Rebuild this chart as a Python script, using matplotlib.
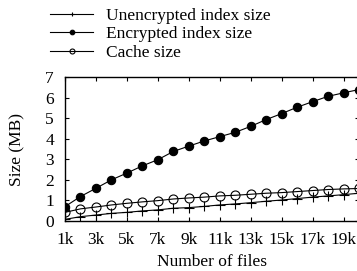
import matplotlib
matplotlib.use("Agg")
import matplotlib.pyplot as plt

files_k = list(range(1, 21))
encrypted = [0.70, 1.19, 1.59, 2.00, 2.33, 2.68, 2.98, 3.38, 3.64, 3.89,
             4.10, 4.31, 4.60, 4.93, 5.22, 5.53, 5.80, 6.06, 6.23, 6.39]
cache = [0.42, 0.59, 0.68, 0.78, 0.86, 0.93, 0.99, 1.07, 1.12, 1.16,
         1.22, 1.25, 1.30, 1.35, 1.38, 1.43, 1.48, 1.53, 1.56, 1.58]
unencrypted = [0.08, 0.21, 0.29, 0.37, 0.42, 0.49, 0.54, 0.62, 0.65, 0.71,
               0.78, 0.83, 0.89, 0.96, 1.02, 1.09, 1.16, 1.22, 1.28, 1.35]
xticks_k = list(range(1, 21, 2))
xtick_labels = [f"{k}k" for k in xticks_k]
yticks = list(range(0, 8))

plt.rcParams['font.family'] = ['Liberation Serif', 'DejaVu Serif']
plt.rcParams['font.size'] = 12.5

fig = plt.figure(figsize=(3.57, 2.71), dpi=100)
ax = fig.add_axes([65/357, 1-221/271, (359-65)/357, (221-77)/271])

lw = 0.8
l1, = ax.plot(files_k, unencrypted, color='black', lw=lw, marker='+',
              markersize=6.5, markeredgewidth=0.8, label='Unencrypted index size')
l2, = ax.plot(files_k, encrypted, color='black', lw=lw, marker='o',
              markersize=6, markerfacecolor='black', markeredgewidth=0.8,
              label='Encrypted index size')
l3, = ax.plot(files_k, cache, color='black', lw=lw, marker='o',
              markersize=6.5, markerfacecolor='none', markeredgewidth=0.8,
              label='Cache size')

ax.set_xlim(1, 20)
ax.set_ylim(0, 7)
ax.set_xticks(xticks_k)
ax.set_xticklabels(xtick_labels)
ax.set_yticks(yticks)
ax.tick_params(direction='in', length=3, width=0.8, top=True, right=True)
ax.tick_params(axis='x', pad=8)
ax.tick_params(axis='y', pad=8)
for s in ax.spines.values():
    s.set_linewidth(1.0)

ax.set_xlabel('Number of files', labelpad=4)
ax.set_ylabel('Size (MB)', labelpad=14)

fig.legend(handles=[l1, l2, l3], loc='upper left',
           bbox_to_anchor=(50/357, 1-8/271), frameon=False,
           borderpad=0, borderaxespad=0, handlelength=2.5,
           handletextpad=0.7, labelspacing=0.12, markerscale=0.55)

fig.savefig('out.png', dpi=100)
